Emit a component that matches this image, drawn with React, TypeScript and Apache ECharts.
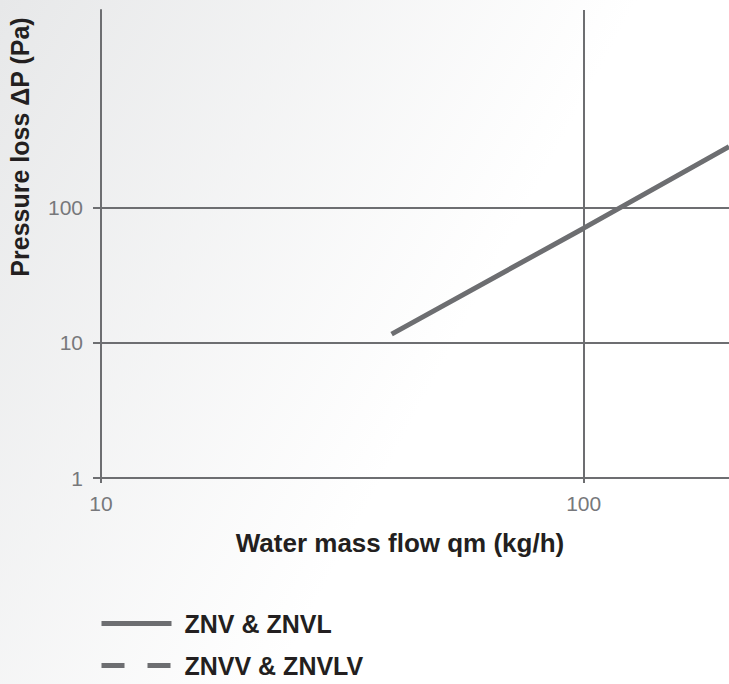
import React, { useEffect, useRef } from "react";
import * as echarts from "echarts";

const xTicks = [10, 100];
const yTicks = [1, 10, 100];
const xRange = [10, 200];
const yRange = [1, 2900];
const seriesNames = ["ZNV & ZNVL", "ZNVV & ZNVLV"];
const znvData: [number, number][] = [
  [40, 11.6],
  [100, 70.5],
  [200, 283],
];
const znvvData: [number, number][] = [];

const GRAY = "#6d6e71";
const FONT = "'Liberation Sans', Arial, Helvetica, sans-serif";

export default function App() {
  const ref = useRef<HTMLDivElement>(null);
  useEffect(() => {
    if (!ref.current) return;
    const chart = echarts.init(ref.current, undefined, { renderer: "svg" });
    chart.setOption({
      animation: false,
      backgroundColor: {
        type: "linear",
        x: 0,
        y: 0,
        x2: 0.7,
        y2: 0.35,
        colorStops: [
          { offset: 0, color: "#e7e8e9" },
          { offset: 1, color: "#ffffff" },
        ],
      },
      grid: { left: 101, right: 0, top: 10, bottom: 206 },
      xAxis: {
        type: "log",
        logBase: 10,
        min: xRange[0],
        max: xRange[1],
        axisLine: { lineStyle: { color: GRAY, width: 2 } },
        axisTick: { customValues: xTicks, length: 5, lineStyle: { color: GRAY, width: 2 } },
        axisLabel: {
          customValues: xTicks,
          color: "#77787b",
          fontSize: 21,
          fontFamily: FONT,
          margin: 15,
        },
        splitLine: { show: true, lineStyle: { color: GRAY, width: 2 } },
        minorTick: { show: false },
      },
      yAxis: {
        type: "log",
        logBase: 10,
        min: yRange[0],
        max: yRange[1],
        axisLine: { show: true, lineStyle: { color: GRAY, width: 2 } },
        axisTick: { show: true, customValues: yTicks, length: 8, lineStyle: { color: GRAY, width: 2 } },
        axisLabel: {
          customValues: yTicks,
          color: "#77787b",
          fontSize: 21,
          fontFamily: FONT,
          margin: 18,
        },
        splitLine: { show: true, lineStyle: { color: GRAY, width: 2 } },
      },
      legend: {
        orient: "vertical",
        left: 99,
        top: 611,
        height: 70,
        padding: 0,
        itemWidth: 70,
        itemHeight: 20,
        itemGap: 17,
        data: seriesNames,
        itemStyle: { opacity: 0 },
        lineStyle: { width: 5 },
        textStyle: {
          fontSize: 25,
          lineHeight: 20,
          fontWeight: "bold",
          color: "#231f20",
          fontFamily: FONT,
          padding: [0, 0, 0, 8],
        },
      },
      graphic: [
        {
          type: "text",
          x: 400,
          y: 543,
          style: {
            text: "Water mass flow qm (kg/h)",
            font: `bold 26px ${FONT}`,
            fill: "#231f20",
            textAlign: "center",
            textVerticalAlign: "middle",
          },
        },
        {
          type: "text",
          x: 20,
          y: 147,
          rotation: Math.PI / 2,
          style: {
            text: "Pressure loss ΔP (Pa)",
            font: `bold 25px ${FONT}`,
            fill: "#231f20",
            textAlign: "center",
            textVerticalAlign: "middle",
          },
        },
      ],
      series: [
        {
          name: seriesNames[0],
          type: "line",
          data: znvData,
          showSymbol: false,
          symbol: "none",
          lineStyle: { color: GRAY, width: 5 },
          itemStyle: { color: GRAY },
        },
        {
          name: seriesNames[1],
          type: "line",
          data: znvvData,
          showSymbol: false,
          symbol: "none",
          lineStyle: { color: GRAY, width: 5, type: [23, 23] },
          itemStyle: { color: GRAY },
        },
      ],
    });
    return () => chart.dispose();
  }, []);
  return (
    <div
      ref={ref}
      style={{ position: "fixed", left: 0, top: 0, width: 729, height: 684 }}
    />
  );
}
